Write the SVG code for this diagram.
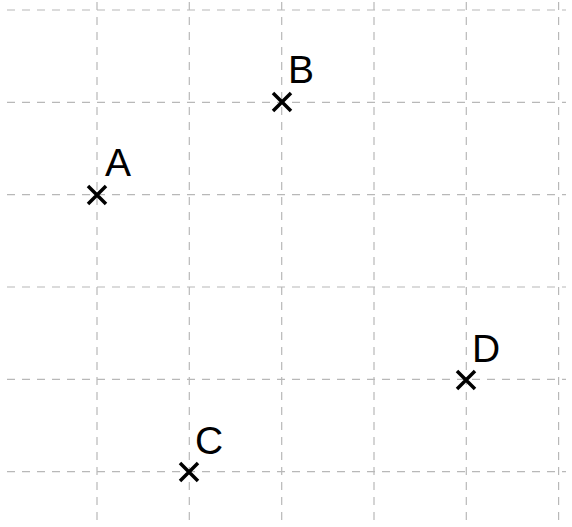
<svg xmlns="http://www.w3.org/2000/svg" width="572" height="527" viewBox="0 0 572 527">
<style>
.grid line{stroke:#b8b8b8;stroke-width:1.2;stroke-dasharray:8 7}
.pt{stroke:#000;stroke-width:3.5;stroke-linecap:butt}
.lbl{font-family:"Liberation Sans",Arial,sans-serif;font-size:39px;fill:#000}
</style>
<rect width="572" height="527" fill="#fff"/>
<g class="grid" id="grid">
<line x1="7" y1="10" x2="566" y2="10"/>
<line x1="7" y1="102.3" x2="566" y2="102.3"/>
<line x1="7" y1="194.7" x2="566" y2="194.7"/>
<line x1="7" y1="287" x2="566" y2="287"/>
<line x1="7" y1="379.3" x2="566" y2="379.3"/>
<line x1="7" y1="471.6" x2="566" y2="471.6"/>
<line x1="97" y1="2" x2="97" y2="527"/>
<line x1="189.3" y1="2" x2="189.3" y2="527"/>
<line x1="281.7" y1="2" x2="281.7" y2="527"/>
<line x1="374" y1="2" x2="374" y2="527"/>
<line x1="466.3" y1="2" x2="466.3" y2="527"/>
<line x1="558.6" y1="2" x2="558.6" y2="527"/>
</g>
<g id="A"><path class="pt" d="M88 186 L106 204 M106 186 L88 204"/><text class="lbl" x="105" y="176">A</text></g>
<g id="B"><path class="pt" d="M273 93 L291 111 M291 93 L273 111"/><text class="lbl" x="288" y="83">B</text></g>
<g id="C"><path class="pt" d="M180 463 L198 481 M198 463 L180 481"/><text class="lbl" x="195" y="454">C</text></g>
<g id="D"><path class="pt" d="M457 371 L475 389 M475 371 L457 389"/><text class="lbl" x="472" y="362">D</text></g>
</svg>
